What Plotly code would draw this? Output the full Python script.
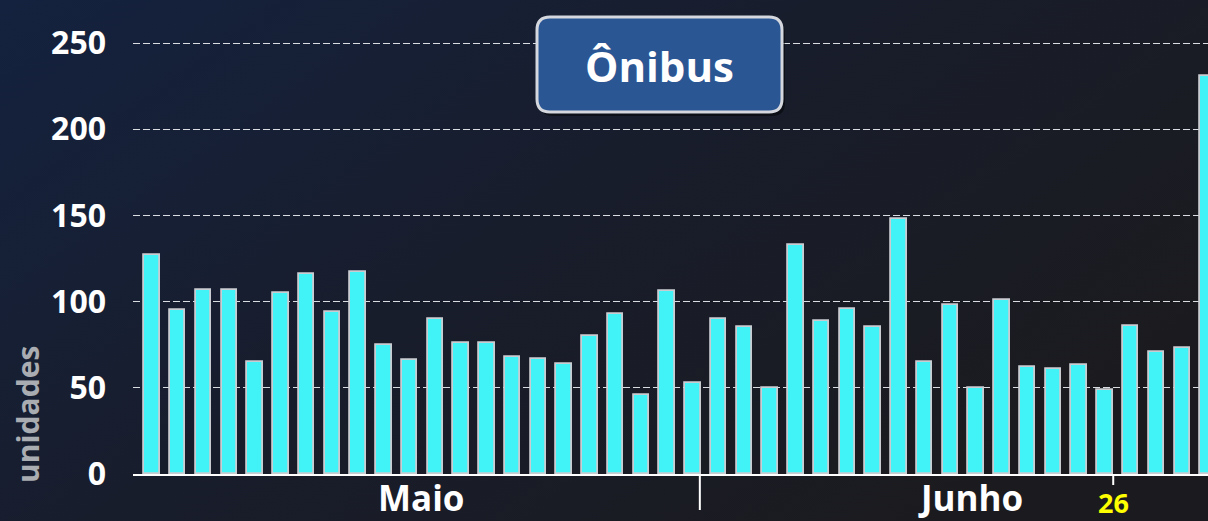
import base64
import plotly.graph_objects as go

# ---- data ----
values = [127, 95, 107, 107, 65, 105, 116, 94, 117, 75, 66,
          90, 76, 76, 68, 67, 64, 80, 93, 46, 106, 53,
          90, 85, 50, 133, 89, 96, 85, 148, 65, 98, 50, 101,
          62, 61, 63, 49, 86, 71, 73, 231]
categories = list(range(len(values)))
y_ticks = [0, 50, 100, 150, 200, 250]
month_labels = ["Maio", "Junho"]
month_label_pos = [10.45, 31.77]
month_divider_pos = 21.27
marker_label = "26"
marker_pos = 37.32
title_text = "Ônibus"
y_title = "unidades"

W, H = 1208, 521
ML, MR, MT, MB = 133, 0, 0, 47
PW, PH = W - ML - MR, H - MT - MB
FONT = "Open Sans"

def fx(px):
    return (px - ML) / PW

def fy(py):
    return (H - MB - py) / PH

# gradient background as svg
svg = f'''<svg xmlns="http://www.w3.org/2000/svg" width="{W}" height="{H}">
<defs><linearGradient id="g" x1="0" y1="0" x2="1" y2="0.6">
<stop offset="0" stop-color="#14223f"/>
<stop offset="0.5" stop-color="#181d2c"/>
<stop offset="1" stop-color="#1b1b1f"/>
</linearGradient></defs>
<rect width="{W}" height="{H}" fill="url(#g)"/></svg>'''
bg_src = "data:image/svg+xml;base64," + base64.b64encode(svg.encode()).decode()

fig = go.Figure()
fig.add_trace(go.Bar(
    x=categories, y=values, width=0.6,
    marker=dict(color="#41f2f7", line=dict(color="#c9cdd2", width=1.8)),
    showlegend=False, hoverinfo="skip",
))

# rounded title box
def rounded(L, R, T, B, r):
    return (f"M {fx(L+r)},{fy(T)} L {fx(R-r)},{fy(T)} Q {fx(R)},{fy(T)} {fx(R)},{fy(T+r)} "
            f"L {fx(R)},{fy(B-r)} Q {fx(R)},{fy(B)} {fx(R-r)},{fy(B)} "
            f"L {fx(L+r)},{fy(B)} Q {fx(L)},{fy(B)} {fx(L)},{fy(B-r)} "
            f"L {fx(L)},{fy(T+r)} Q {fx(L)},{fy(T)} {fx(L+r)},{fy(T)} Z")

L, R, T, B, r = 537, 782, 17, 112, 13
fig.add_shape(type="path", path=rounded(L + 3, R + 3, T + 4, B + 4, r), xref="paper", yref="paper",
              fillcolor="rgba(0,0,0,0.45)", line=dict(width=0), layer="above")
fig.add_shape(type="path", path=rounded(L, R, T, B, r), xref="paper", yref="paper",
              fillcolor="#2b5694", line=dict(color="#d4d8de", width=3), layer="above")
fig.add_annotation(text=f"<b>{title_text}</b>", xref="paper", yref="paper",
                   x=fx((L + R) / 2), y=fy(66), xanchor="center", yanchor="middle",
                   showarrow=False, font=dict(family=FONT, size=42, color="white"))

# month divider tick and 26 tick
fig.add_shape(type="line", xref="x", yref="paper", x0=month_divider_pos, x1=month_divider_pos,
              y0=0, y1=fy(510), line=dict(color="white", width=2), layer="above")
fig.add_shape(type="line", xref="x", yref="paper", x0=marker_pos, x1=marker_pos,
              y0=0, y1=fy(485), line=dict(color="white", width=2), layer="above")

for lab, pos in zip(month_labels, month_label_pos):
    fig.add_annotation(text=f"<b>{lab}</b>", xref="x", yref="paper", x=pos, y=fy(497),
                       xanchor="center", yanchor="middle", borderpad=0,
                       showarrow=False, font=dict(family=FONT, size=35, color="white"))
fig.add_annotation(text=f"<b>{marker_label}</b>", xref="x", yref="paper", x=marker_pos, y=fy(502),
                   xanchor="center", yanchor="middle", borderpad=0,
                   showarrow=False, font=dict(family=FONT, size=27, color="#ffff00"))
fig.add_annotation(text=f"<b>{y_title}</b>", xref="paper", yref="paper", x=fx(27), y=fy(415),
                   xanchor="center", yanchor="middle", textangle=-90, showarrow=False,
                   font=dict(family=FONT, size=30, color="#a9acb1"))

fig.update_layout(
    width=W, height=H,
    margin=dict(l=ML, r=MR, t=MT, b=MB, pad=0),
    paper_bgcolor="#181d2b", plot_bgcolor="rgba(0,0,0,0)",
    bargap=0,
    images=[dict(source=bg_src, xref="paper", yref="paper", x=-ML / PW, y=1 + MT / PH,
                 sizex=W / PW, sizey=H / PH, xanchor="left", yanchor="top",
                 sizing="stretch", layer="below")],
    xaxis=dict(range=[-19 / 25.75, 41], showgrid=False, zeroline=False,
               showticklabels=False, showline=True, linecolor="white", linewidth=2,
               fixedrange=True),
    yaxis=dict(range=[0, 275], tickvals=y_ticks, showgrid=True, gridcolor="#d9dce0",
               griddash="7px,3px", gridwidth=1, zeroline=False, showline=False,
               ticks="", ticklabelstandoff=26,
               tickfont=dict(family=FONT, size=32, color="white", weight="bold"),
               fixedrange=True),
)

fig.write_html("out.html", config={"displayModeBar": False},
               post_script="document.body.style.margin='0';")
